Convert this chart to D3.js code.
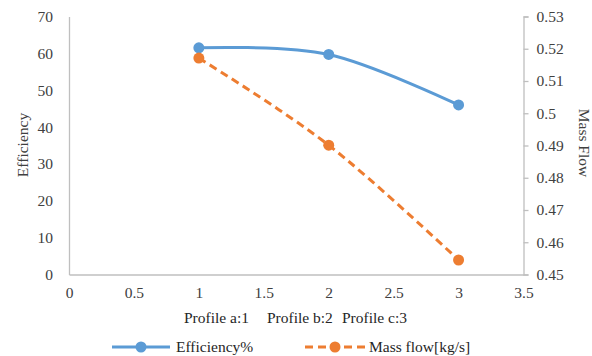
<!DOCTYPE html>
<html>
<head>
<meta charset="utf-8">
<script src="https://cdn.jsdelivr.net/npm/d3@7"></script>
<style>
  html, body { margin: 0; padding: 0; background: #fff; }
  svg { display: block; }
  svg text { font-family: "Liberation Serif", "Times New Roman", serif !important; font-size: 15.5px; }
</style>
</head>
<body>
<svg id="chart" width="592" height="356"></svg>
<script>
// Profile positions and measured values
const profiles = [1, 2, 3];
const efficiency = [61.5, 59.7, 46.0];
const massFlow = [0.5171, 0.4901, 0.4545];

// Axis ticks
const xTicks = [0, 0.5, 1, 1.5, 2, 2.5, 3, 3.5];
const yLeftTicks = [0, 10, 20, 30, 40, 50, 60, 70];
const yRightTicks = [0.45, 0.46, 0.47, 0.48, 0.49, 0.5, 0.51, 0.52, 0.53];
const profileLabels = ["Profile a:1", "Profile b:2", "Profile c:3"];
const seriesNames = ["Efficiency%", "Mass flow[kg/s]"];

const blue = "#5b9bd5", orange = "#ed7d31", axisColor = "#bfbfbf", textColor = "#404040";
const serif = "'Liberation Serif', 'Times New Roman', serif";

const svg = d3.select("#chart");
const m = { left: 69, right: 523.5, top: 16.5, bottom: 274.5 };

const x = d3.scaleLinear().domain([0, 3.5]).range([m.left, m.right]);
const yL = d3.scaleLinear().domain([0, 70]).range([m.bottom, m.top]);
const yR = d3.scaleLinear().domain([0.45, 0.53]).range([m.bottom, m.top]);

// Left axis: line only, no tick marks
const gL = svg.append("g").attr("transform", `translate(${m.left},0)`)
  .call(d3.axisLeft(yL).tickValues(yLeftTicks).tickSize(0).tickPadding(16).tickFormat(d3.format("d")));
// Right axis: outward tick marks
const gR = svg.append("g").attr("transform", `translate(${m.right},0)`)
  .call(d3.axisRight(yR).tickValues(yRightTicks).tickSize(5).tickPadding(8).tickFormat(d => String(+d.toFixed(2))));
// Bottom axis
const gB = svg.append("g").attr("transform", `translate(0,${m.bottom})`)
  .call(d3.axisBottom(x).tickValues(xTicks).tickSize(0).tickPadding(12).tickFormat(d => String(d)));

[gL, gR, gB].forEach(g => {
  g.attr("font-family", serif).attr("font-size", 15.5);
  g.select(".domain").attr("stroke", axisColor).attr("stroke-width", 1.3);
  g.selectAll(".tick line").attr("stroke", axisColor).attr("stroke-width", 1.3);
  g.selectAll(".tick text").attr("fill", textColor);
});

// Axis titles
svg.append("text").attr("transform", "translate(28,145) rotate(-90)")
  .attr("text-anchor", "middle").attr("fill", textColor).text("Efficiency");
svg.append("text").attr("transform", "translate(579,143) rotate(90)")
  .attr("text-anchor", "middle").attr("fill", textColor).text("Mass Flow");

// Profile labels under the axis
const profileX = [184, 267, 342];
svg.selectAll("text.profile").data(profileLabels).join("text")
  .attr("class", "profile").attr("x", (d, i) => profileX[i]).attr("y", 323)
  .attr("fill", "#262626").text(d => d);

// Series lines (smoothed like a spreadsheet smooth line)
const curve = d3.curveCardinal.tension(0);
const effLine = d3.line().x((d, i) => x(profiles[i])).y(d => yL(d)).curve(curve);
const mfLine = d3.line().x((d, i) => x(profiles[i])).y(d => yR(d)).curve(curve);

svg.append("path").datum(efficiency).attr("d", effLine)
  .attr("fill", "none").attr("stroke", blue).attr("stroke-width", 3).attr("stroke-linecap", "round");
svg.append("path").datum(massFlow).attr("d", mfLine)
  .attr("fill", "none").attr("stroke", orange).attr("stroke-width", 3).attr("stroke-dasharray", "8,5");

svg.selectAll("circle.eff").data(efficiency).join("circle").attr("class", "eff")
  .attr("cx", (d, i) => x(profiles[i])).attr("cy", d => yL(d)).attr("r", 5.5).attr("fill", blue);
svg.selectAll("circle.mf").data(massFlow).join("circle").attr("class", "mf")
  .attr("cx", (d, i) => x(profiles[i])).attr("cy", d => yR(d)).attr("r", 5.5).attr("fill", orange);

// Legend
const legY = 347;
const leg = [
  { name: seriesNames[0], color: blue, dash: null, x0: 112, x1: 170, tx: 176 },
  { name: seriesNames[1], color: orange, dash: "8,5", x0: 305, x1: 365, tx: 369 }
];
leg.forEach(l => {
  svg.append("line").attr("x1", l.x0).attr("x2", l.x1).attr("y1", legY).attr("y2", legY)
    .attr("stroke", l.color).attr("stroke-width", 3).attr("stroke-dasharray", l.dash);
  svg.append("circle").attr("cx", (l.x0 + l.x1) / 2).attr("cy", legY).attr("r", 5.5).attr("fill", l.color);
  svg.append("text").attr("x", l.tx).attr("y", legY + 5).attr("fill", "#262626").text(l.name);
});
</script>
</body>
</html>
